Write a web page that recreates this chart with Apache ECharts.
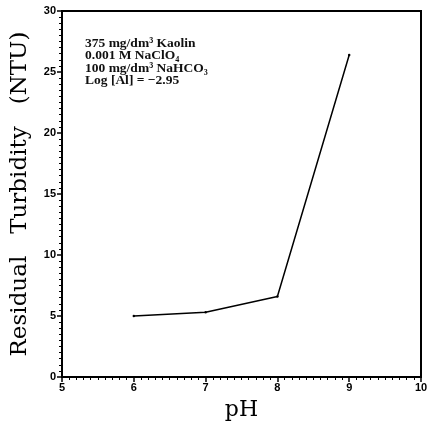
<!DOCTYPE html>
<html><head><meta charset="utf-8">
<script src="https://cdn.jsdelivr.net/npm/echarts@6/dist/echarts.min.js"></script>
<style>html,body{margin:0;padding:0;background:#fff}#c{width:430px;height:424px}</style>
</head><body><div id="c"></div>
<script>
const pH = [6, 7, 8, 9];
const turbidity = [5.0, 5.3, 6.6, 26.4];
const xTicks = [5, 6, 7, 8, 9, 10];
const yTicks = [0, 5, 10, 15, 20, 25, 30];
const noteLines = ['375 mg/dm³ Kaolin', '0.001 M NaClO₄', '100 mg/dm³ NaHCO₃', 'Log [Al] = −2.95'];

const chart = echarts.init(document.getElementById('c'), null, {renderer: 'canvas'});
const serif = '"Liberation Serif", "DejaVu Serif", serif';
const wideSerif = '"DejaVu Serif", "Liberation Serif", serif';
chart.setOption({
  animation: false,
  backgroundColor: '#fff',
  grid: {left: 62, right: 9, top: 11, bottom: 47, show: true, borderColor: '#000', borderWidth: 2,
         containLabel: false, outerBoundsMode: 'none'},
  title: {
    text: noteLines.join('\n'), left: 80, top: 32,
    textStyle: {fontFamily: serif, fontSize: 13.5, fontWeight: 'bold', color: '#111', lineHeight: 12.5}
  },
  xAxis: {
    type: 'value', min: xTicks[0], max: xTicks[xTicks.length - 1], interval: 1,
    name: 'pH', nameLocation: 'middle', nameGap: 22,
    nameTextStyle: {fontFamily: wideSerif, fontSize: 22, color: '#000'},
    axisLine: {lineStyle: {color: '#000', width: 2}},
    axisTick: {length: 5, lineStyle: {color: '#000', width: 1.5}},
    minorTick: {show: true, splitNumber: 10, length: 3, lineStyle: {color: '#000', width: 1}},
    axisLabel: {fontFamily: 'Arial, "Liberation Sans", sans-serif', fontWeight: 'bold', fontSize: 11, color: '#000', margin: 5},
    splitLine: {show: false}
  },
  yAxis: {
    type: 'value', min: yTicks[0], max: yTicks[yTicks.length - 1], interval: 5,
    name: 'Residual   Turbidity   (NTU)', nameLocation: 'middle', nameGap: 30,
    nameTextStyle: {fontFamily: wideSerif, fontSize: 23, color: '#000'},
    axisLine: {lineStyle: {color: '#000', width: 2}},
    axisTick: {length: 5, lineStyle: {color: '#000', width: 1.5}},
    minorTick: {show: true, splitNumber: 10, length: 3, lineStyle: {color: '#000', width: 1}},
    axisLabel: {fontFamily: 'Arial, "Liberation Sans", sans-serif', fontWeight: 'bold', fontSize: 11, color: '#000', margin: 6},
    splitLine: {show: false}
  },
  series: [{
    type: 'line', data: pH.map((x, i) => [x, turbidity[i]]),
    showSymbol: true, symbol: 'circle', symbolSize: 2.5,
    itemStyle: {color: '#000'},
    lineStyle: {color: '#000', width: 1.5}
  }]
});
</script></body></html>
